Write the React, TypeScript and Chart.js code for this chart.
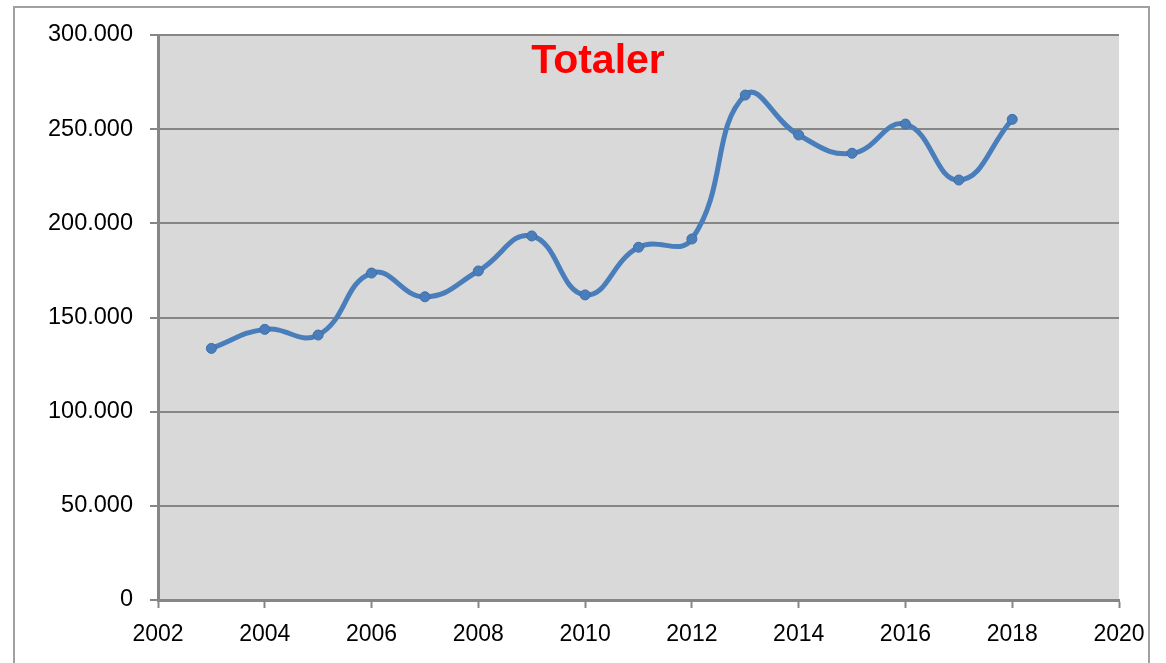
import React, { useEffect, useRef } from "react";
import { Chart, registerables } from "chart.js";

Chart.register(...registerables);

const TITLE = "Totaler";
const years = [2003, 2004, 2005, 2006, 2007, 2008, 2009, 2010, 2011, 2012, 2013, 2014, 2015, 2016, 2017, 2018];
const totals = [133600, 143700, 140700, 173600, 161000, 174700, 193300, 162000, 187300, 191700, 268100, 246900, 237200, 252700, 223000, 255200];
const xMin = 2002;
const xMax = 2020;
const xStep = 2;
const yMin = 0;
const yMax = 300000;
const yStep = 50000;

const FONT = "'Liberation Sans', Arial, sans-serif";
const GRID = "#868686";
const BLUE = "#4a7ebb";

function fmt(v: number): string {
  const s = Math.round(v).toString();
  return s.replace(/\B(?=(\d{3})+(?!\d))/g, ".");
}

const bgAndTitle = {
  id: "bgAndTitle",
  beforeDraw(chart: any) {
    const { ctx, chartArea } = chart;
    ctx.save();
    ctx.fillStyle = "#d9d9d9";
    ctx.fillRect(chartArea.left, chartArea.top, chartArea.right - chartArea.left, chartArea.bottom - chartArea.top);
    ctx.restore();
  },
  afterDatasetsDraw(chart: any) {
    const { ctx, chartArea } = chart;
    ctx.save();
    ctx.fillStyle = "#ff0000";
    ctx.font = `bold 41px ${FONT}`;
    ctx.textAlign = "center";
    ctx.textBaseline = "alphabetic";
    ctx.fillText(TITLE, chartArea.left + 440, chartArea.top + 38);
    ctx.restore();
  },
};

export default function App() {
  const ref = useRef<HTMLCanvasElement | null>(null);
  useEffect(() => {
    if (!ref.current) return;
    const chart = new Chart(ref.current, {
      type: "line",
      data: {
        datasets: [
          {
            label: TITLE,
            data: years.map((y, i) => ({ x: y, y: totals[i] })),
            borderColor: BLUE,
            backgroundColor: BLUE,
            borderWidth: 5,
            pointRadius: 5,
            pointBorderWidth: 1,
            pointBorderColor: "#3f6fa8",
            pointBackgroundColor: BLUE,
            tension: 0.45,
            cubicInterpolationMode: "default",
          },
        ],
      },
      options: {
        responsive: false,
        animation: false,
        maintainAspectRatio: false,
        layout: { padding: { left: 0, top: 35, right: 47, bottom: 0 } },
        plugins: {
          legend: { display: false },
          title: { display: false },
          tooltip: { enabled: false },
        },
        scales: {
          x: {
            type: "linear",
            min: xMin,
            max: xMax,
            afterFit(scale: any) {
              scale.height = 63;
            },
            afterBuildTicks(scale: any) {
              const t = [];
              for (let v = xMin; v <= xMax; v += xStep) t.push({ value: v });
              scale.ticks = t;
            },
            ticks: {
              color: "#000",
              font: { family: FONT, size: 23 },
              padding: 13,
              maxRotation: 0,
              autoSkip: false,
              callback: (v: any) => String(v),
            },
            grid: {
              drawOnChartArea: false,
              drawTicks: true,
              tickLength: 8,
              tickWidth: 2,
              tickColor: GRID,
              color: GRID,
            },
            border: { display: true, color: GRID, width: 3 },
          },
          y: {
            type: "linear",
            min: yMin,
            max: yMax,
            afterFit(scale: any) {
              scale.width = 158;
            },
            afterBuildTicks(scale: any) {
              const t = [];
              for (let v = yMin; v <= yMax; v += yStep) t.push({ value: v });
              scale.ticks = t;
            },
            ticks: {
              color: "#000",
              font: { family: FONT, size: 23.5 },
              padding: 17,
              callback: (v: any) => fmt(Number(v)),
            },
            grid: {
              drawOnChartArea: true,
              drawTicks: true,
              tickLength: 8,
              lineWidth: 2,
              tickWidth: 2,
              color: GRID,
              tickColor: GRID,
            },
            border: { display: true, color: GRID, width: 3 },
          },
        },
      },
      plugins: [bgAndTitle],
    } as any);
    return () => chart.destroy();
  }, []);

  return (
    <div style={{ position: "fixed", left: 0, top: 0, width: 1166, height: 663, background: "#fff", overflow: "hidden" }}>
      <div
        style={{
          position: "absolute",
          left: 13,
          top: 6,
          width: 1137,
          height: 700,
          border: "2px solid #a0a0a0",
          boxSizing: "border-box",
        }}
      />
      <canvas ref={ref} width={1166} height={663} style={{ position: "absolute", left: 0, top: 0, width: 1166, height: 663 }} />
    </div>
  );
}
